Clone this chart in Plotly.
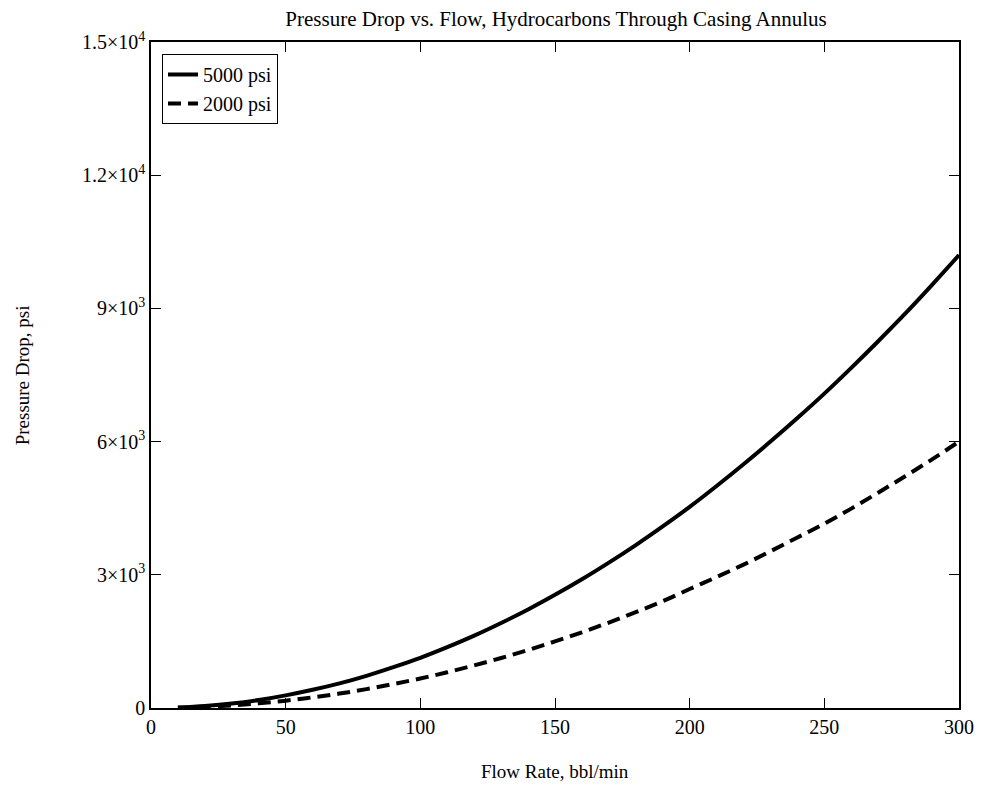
import plotly.graph_objects as go

# Flow rate, bbl/min
flow_rate = [10, 20, 30, 40, 50, 60, 70, 80, 90, 100,
             110, 120, 130, 140, 150, 160, 170, 180, 190, 200,
             210, 220, 230, 240, 250, 260, 270, 280, 290, 300]

# Pressure drop, psi, at 5000 psi
dp_5000 = [10, 45, 100, 180, 285, 410, 555, 725, 920, 1130,
           1370, 1630, 1915, 2220, 2550, 2900, 3275, 3670, 4090, 4530,
           5000, 5490, 6000, 6530, 7080, 7660, 8260, 8880, 9530, 10200]

# Pressure drop, psi, at 2000 psi
dp_2000 = [5, 25, 60, 105, 165, 240, 325, 425, 540, 665,
           805, 960, 1125, 1305, 1500, 1705, 1925, 2160, 2405, 2680,
           2950, 3230, 3530, 3840, 4150, 4490, 4850, 5220, 5600, 6000]

x_ticks = [0, 50, 100, 150, 200, 250, 300]
y_ticks = [0, 3000, 6000, 9000, 12000, 15000]
y_tick_text = ["0", "3×10<sup>3</sup>", "6×10<sup>3</sup>", "9×10<sup>3</sup>",
               "1.2×10<sup>4</sup>", "1.5×10<sup>4</sup>"]

FONT = "Liberation Serif"

fig = go.Figure()
fig.add_trace(go.Scatter(x=flow_rate, y=dp_5000, mode="lines", name="5000 psi",
                         line=dict(color="black", width=4, shape="spline")))
fig.add_trace(go.Scatter(x=flow_rate, y=dp_2000, mode="lines", name="2000 psi",
                         line=dict(color="black", width=4, shape="spline",
                                   dash="13px,7px")))

axis_common = dict(showline=True, linecolor="black", linewidth=1.5, mirror="ticks",
                   ticks="inside", ticklen=10, tickwidth=1, tickcolor="black",
                   showgrid=False, zeroline=False,
                   tickfont=dict(family=FONT, size=20, color="black"))

fig.update_xaxes(range=[0, 300], tickvals=x_ticks, **axis_common)
fig.update_yaxes(range=[0, 15000], tickvals=y_ticks, ticktext=y_tick_text, **axis_common)

fig.update_layout(
    width=986, height=788,
    margin=dict(l=151, r=25, t=42, b=80),
    paper_bgcolor="white", plot_bgcolor="white",
    title=dict(text="Pressure Drop vs. Flow, Hydrocarbons Through Casing Annulus",
               x=556 / 986, xanchor="center", xref="container",
               y=1 - 19 / 788, yanchor="middle", yref="container",
               font=dict(family=FONT, size=21, color="black")),
    legend=dict(x=0.0136, y=0.982, xanchor="left", yanchor="top",
                bordercolor="black", borderwidth=1, bgcolor="white",
                font=dict(family=FONT, size=20, color="black"),
                itemwidth=30, tracegroupgap=0),
    showlegend=True,
    annotations=[
        dict(text="Flow Rate, bbl/min", xref="paper", yref="paper",
             x=0.5, y=-63 / 666, xanchor="center", yanchor="middle",
             showarrow=False, font=dict(family=FONT, size=19, color="black")),
        dict(text="Pressure Drop, psi", xref="paper", yref="paper",
             x=(22 - 151) / 810, y=0.5, xanchor="center", yanchor="middle",
             textangle=-90, showarrow=False,
             font=dict(family=FONT, size=19, color="black")),
    ],
)

fig.write_html("out.html")
